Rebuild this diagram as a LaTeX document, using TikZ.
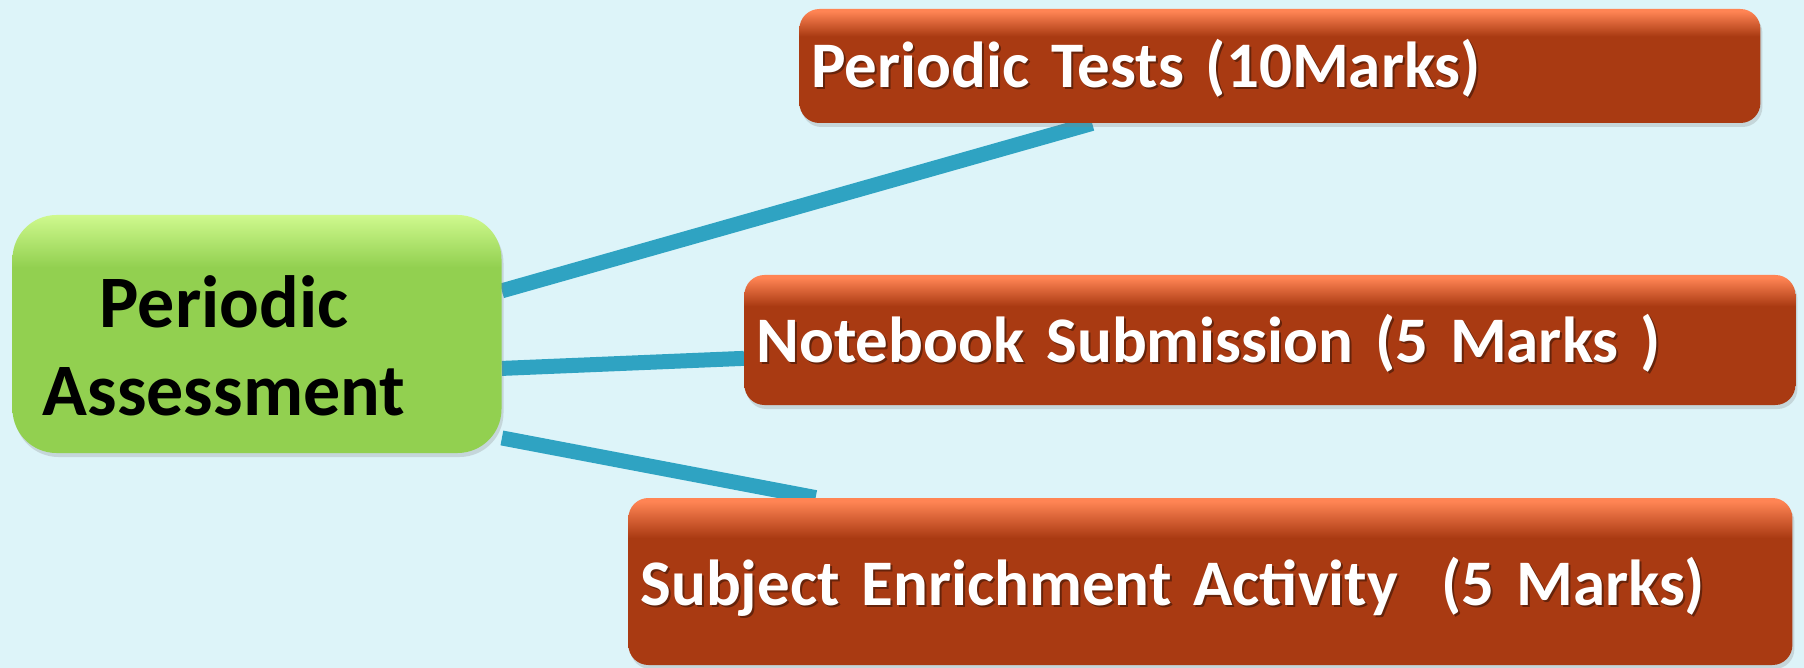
\documentclass[tikz,border=0pt]{standalone}
\usepackage{fontspec}
\setmainfont{Carlito}
\usetikzlibrary{shadows}

\pgfdeclarelayer{lines}
\pgfsetlayers{lines,main}

\definecolor{bgblue}{HTML}{DDF4F9}
\definecolor{leafgreen}{HTML}{92D050}
\definecolor{leaflight}{HTML}{CFF98E}
\definecolor{brick}{HTML}{A93A12}
\definecolor{bricklight}{HTML}{FF8454}
\definecolor{linkblue}{HTML}{2FA3C2}

\pgfdeclareverticalshading{greenshade}{100bp}{color(0bp)=(leafgreen); color(64bp)=(leafgreen); color(75bp)=(leaflight); color(100bp)=(leaflight)}
\pgfdeclareverticalshading{brickshade}{100bp}{color(0bp)=(brick); color(63bp)=(brick); color(74bp)=(bricklight); color(100bp)=(bricklight)}

\newcommand{\shadowed}[1]{\leavevmode\rlap{\kern1pt\raisebox{-1pt}{\color{brick!60!black}#1}}#1}

\begin{document}
\begin{tikzpicture}[x=0.5pt,y=-0.5pt]

\tikzset{hub/.style = {shape=rectangle, rounded corners=22pt, shading=greenshade,
  minimum width=244.5pt, minimum height=119pt,
  drop shadow={opacity=0.25, shadow xshift=1pt, shadow yshift=-2pt}}}
\tikzset{hubtext/.style = {font=\bfseries\fontsize{37}{44}\selectfont, align=center, inner sep=0pt}}
\tikzset{markbox/.style = {shape=rectangle, rounded corners=10pt, shading=brickshade,
  text=white, font=\bfseries\fontsize{32.5}{38}\selectfont, align=left,
  inner xsep=6pt, inner ysep=0pt, minimum height=#1, anchor=west,
  drop shadow={opacity=0.25, shadow xshift=1pt, shadow yshift=-2pt}}}
\tikzset{link/.style = {draw=linkblue, line width=7.5pt,
  preaction={draw=black, opacity=0.12, transform canvas={yshift=-1.5pt}}}}

%background
\begin{pgfonlayer}{lines}
\fill[bgblue] (0,0) rectangle (1804,668);
\end{pgfonlayer}
\useasboundingbox (0,0) rectangle (1804,668);

%boxes
\node[hub, label={[hubtext, xshift=-16.5pt, yshift=-6pt]center:{Periodic\\Assessment}}] (pa) at (257,334) {};
\node[markbox=57pt, text width=468.5pt, text depth=3pt] (pt) at (799,66) {\shadowed{Periodic Tests (10Marks)}};
\node[markbox=65pt, text width=513.5pt, text depth=2pt] (pn) at (744,340) {\shadowed{Notebook Submission (5 Marks )}};
\node[markbox=83.5pt, text width=570pt, text depth=0pt] (ps) at (628,581.5) {\shadowed{Subject Enrichment Activity~ (5 Marks)}};

%links
\begin{pgfonlayer}{lines}
\draw[link] (pa.10.7) -- (pt.197);
\draw[link] (pa.352.5) -- (pn.182);
\draw[link] (pa.337) -- (ps.168);
\end{pgfonlayer}

\end{tikzpicture}
\end{document}
